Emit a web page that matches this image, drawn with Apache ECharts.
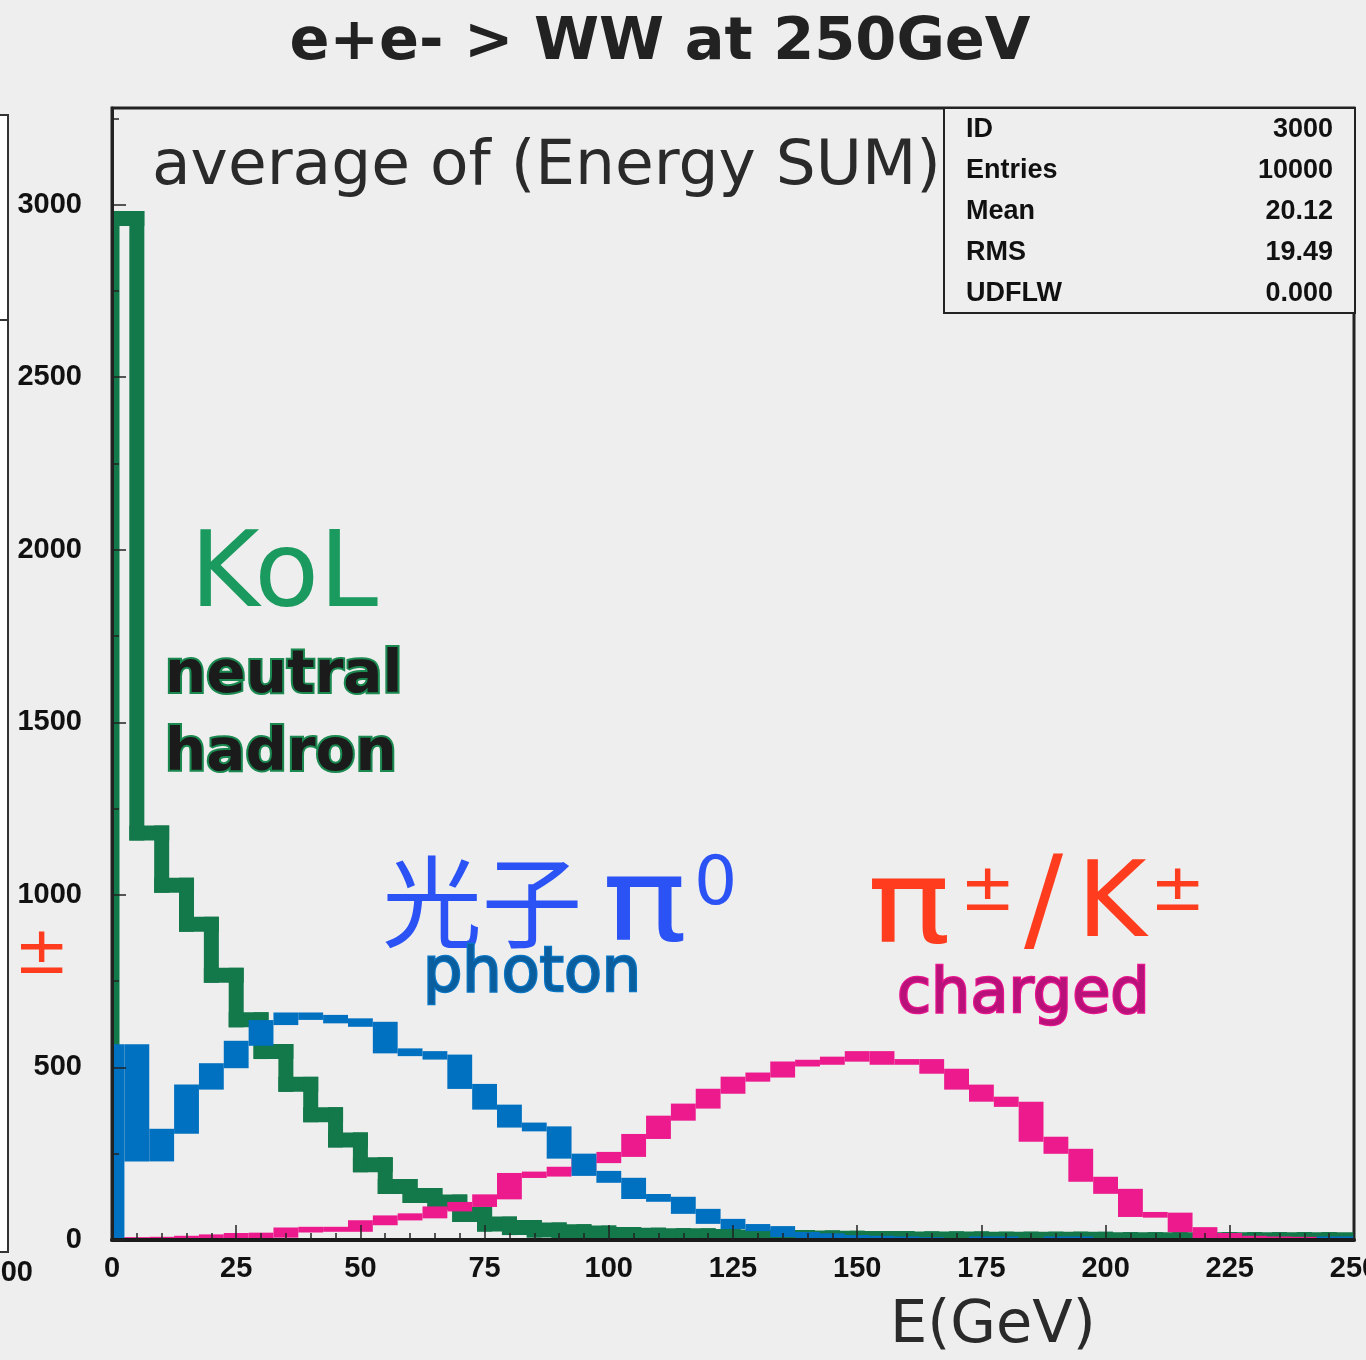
<!DOCTYPE html>
<html>
<head>
<meta charset="utf-8">
<title>e+e- > WW at 250GeV</title>
<script src="https://cdn.jsdelivr.net/npm/echarts@6/dist/echarts.min.js"></script>
<style>
    html, body {
        margin: 0;
        padding: 0;
        background: #eeeeee;
    }

    #chart {
        width: 1366px;
        height: 1360px;
    }
</style>
</head>
<body>
<div id="chart"></div>
<script>
// 5 GeV bins from 0 to 250 GeV (low edge of each bin)
const BIN = 5;
const binLow = [
    0, 5, 10, 15, 20, 25, 30, 35, 40, 45,
    50, 55, 60, 65, 70, 75, 80, 85, 90, 95,
    100, 105, 110, 115, 120, 125, 130, 135, 140, 145,
    150, 155, 160, 165, 170, 175, 180, 185, 190, 195,
    200, 205, 210, 215, 220, 225, 230, 235, 240, 245
];

// KoL / neutral hadron
const neutralHadron = [
    2960, 1179, 1028, 915, 767, 638, 546, 451, 363, 290,
    218, 155, 129, 110, 74, 46, 36, 29, 24, 20,
    16, 14, 12, 12, 10, 9, 8, 7, 6, 5,
    4, 4, 3, 3, 3, 2, 2, 2, 2, 2,
    1, 1, 1, 1, 1, 1, 1, 1, 1, 1
];

// 光子 pi0 / photon
const photon = [
    560, 235, 315, 443, 505, 570, 630, 652, 645, 635,
    625, 548, 540, 530, 445, 385, 333, 322, 243, 193,
    173, 126, 118, 83, 54, 39, 33, 16, 12, 7,
    5, 3, 1, 0, 0, 3, 0, 0, 3, 0,
    0, 0, 0, 0, 0, 0, 0, 0, 0, 3
];

// pi+- / K+- charged
const charged = [
    1, 1, 2, 5, 9, 13, 14, 29, 31, 31,
    50, 64, 70, 90, 103, 125, 187, 191, 205, 230,
    248, 300, 353, 388, 431, 466, 478, 510, 515, 524,
    540, 515, 517, 489, 443, 408, 393, 292, 257, 176,
    141, 74, 72, 30, 13, 5, 3, 2, 1, 1
];

const xTickLabels = [0, 25, 50, 75, 100, 125, 150, 175, 200, 225, 250];
const yTickLabels = [0, 500, 1000, 1500, 2000, 2500, 3000];

const stats = [
    ['ID', '3000'],
    ['Entries', '10000'],
    ['Mean', '20.12'],
    ['RMS', '19.49'],
    ['UDFLW', '0.000']
];

const GREEN = '#13784a';
const BLUE = '#0070c0';
const PINK = '#ec1a8c';
const PAD = 2.5;      // half thickness of the thin horizontal pen
const THICK = 15;     // green pen width

function gridRect(params) {
    return {
        x: params.coordSys.x,
        y: params.coordSys.y,
        width: params.coordSys.width,
        height: params.coordSys.height
    };
}

// green: thick isotropic pen, one item per bin
function thickStepSeries(name, values, color, z) {
    const data = values.map((v, i) => [binLow[i], v, i === 0 ? 0 : values[i - 1]]);
    return {
        name: name,
        type: 'custom',
        z: z,
        data: data,
        encode: { x: 0, y: 1 },
        renderItem: function (params, api) {
            const lo = api.value(0);
            const v = api.value(1);
            const prev = api.value(2);
            const h = THICK / 2;
            const a = api.coord([lo, v]);
            const b = api.coord([lo + BIN, v]);
            const p = api.coord([lo, prev]);
            const clip = gridRect(params);
            const children = [];
            const horiz = echarts.graphic.clipRectByRect({
                x: a[0] - h, y: a[1] - h, width: b[0] - a[0] + 2 * h, height: THICK
            }, clip);
            if (horiz) children.push({ type: 'rect', shape: horiz, style: { fill: color } });
            const top = Math.min(a[1], p[1]) - h;
            const bot = Math.max(a[1], p[1]) + h;
            const vert = echarts.graphic.clipRectByRect({
                x: a[0] - h, y: top, width: THICK, height: bot - top
            }, clip);
            if (vert) children.push({ type: 'rect', shape: vert, style: { fill: color } });
            return { type: 'group', children: children };
        }
    };
}

// blue / pink: wide vertical pen, one block per bin edge spanning the jump
function blockSeries(name, values, color, z) {
    const data = [];
    for (let i = 0; i <= values.length; i++) {
        const prev = i === 0 ? 0 : values[i - 1];
        const next = i === values.length ? 0 : values[i];
        if (prev === 0 && next === 0) continue;
        const edge = i === values.length ? binLow[i - 1] + BIN : binLow[i];
        data.push([edge, Math.min(prev, next), Math.max(prev, next)]);
    }
    return {
        name: name,
        type: 'custom',
        z: z,
        data: data,
        encode: { x: 0, y: [1, 2] },
        renderItem: function (params, api) {
            const e = api.value(0);
            const a = api.coord([e - BIN / 2, api.value(2)]);
            const b = api.coord([e + BIN / 2, api.value(1)]);
            const rect = echarts.graphic.clipRectByRect({
                x: a[0],
                y: a[1] - PAD,
                width: b[0] - a[0],
                height: b[1] - a[1] + 2 * PAD
            }, gridRect(params));
            return rect && { type: 'rect', shape: rect, style: { fill: color } };
        }
    };
}

function txt(text, x, y, font, fill, extra, sx) {
    return {
        type: 'text',
        x: x,
        y: y,
        z: 100,
        scaleX: sx || 1,
        style: Object.assign({
            text: text,
            font: font,
            fill: fill,
            textAlign: 'left',
            textVerticalAlign: 'middle'
        }, extra || {})
    };
}

const graphics = [
    // neighbouring panel, cut off at the left edge
    { type: 'rect', shape: { x: -6, y: 115, width: 14, height: 1137 }, style: { fill: '#ffffff', stroke: '#333', lineWidth: 2 }, z: 1 },
    { type: 'line', shape: { x1: 0, y1: 320, x2: 8, y2: 320 }, style: { stroke: '#333', lineWidth: 2 }, z: 1 },
    txt('±', 14, 956, '66px "DejaVu Sans"', '#ff3c1e'),
    txt('00', 33, 1273, 'bold 29px "Liberation Sans"', '#111', { textAlign: 'right' }),

    // title
    txt('e+e- > WW at 250GeV', 660, 44, 'bold 59px "DejaVu Sans"', '#222', { textAlign: 'center' }),
    txt('average of (Energy SUM)', 152, 168, '63px "DejaVu Sans"', '#2a2a2a'),

    // stats box
    { type: 'rect', shape: { x: 944, y: 108, width: 411, height: 205 }, style: { fill: '#eeeeee', stroke: '#222', lineWidth: 2 }, z: 90 },

    // annotations
    txt('KoL', 190, 578, '106px "DejaVu Sans"', '#1a9a5e'),
    txt('neutral', 165, 677, 'bold 58px "DejaVu Sans"', '#1b1b1b', { stroke: '#1a8a50', lineWidth: 4, strokeFirst: true }),
    txt('hadron', 165, 755, 'bold 58px "DejaVu Sans"', '#1b1b1b', { stroke: '#1a8a50', lineWidth: 4, strokeFirst: true }),
    txt('光子', 382, 902, '100px "Noto Sans CJK JP"', '#2a52f5'),
    txt('π', 602, 910, '116px "DejaVu Sans"', '#2a52f5', null, 1.22),
    txt('0', 694, 886, '68px "DejaVu Sans"', '#2a52f5'),
    txt('photon', 423, 975, '62px "DejaVu Sans"', '#0b5e9e', { stroke: '#0a76c6', lineWidth: 2.5, strokeFirst: true }),
    txt('π', 867, 912, '116px "DejaVu Sans"', '#ff3c1e', null, 1.2),
    txt('±', 960, 893, '66px "DejaVu Sans"', '#ff3c1e'),
    txt('/', 1024, 908, '116px "DejaVu Sans"', '#ff3c1e'),
    txt('K', 1077, 908, '106px "DejaVu Sans"', '#ff3c1e'),
    txt('±', 1150, 893, '66px "DejaVu Sans"', '#ff3c1e'),
    txt('charged', 897, 996, '62px "DejaVu Sans"', '#b8127a', { stroke: '#e8168e', lineWidth: 2.5, strokeFirst: true }),
    txt('E(GeV)', 890, 1327, '59px "DejaVu Sans"', '#2a2a2a')
];

stats.forEach((row, i) => {
    const y = 130 + i * 41;
    graphics.push(txt(row[0], 966, y, 'bold 27px "Liberation Sans"', '#111'));
    graphics.push(txt(row[1], 1333, y, 'bold 27px "Liberation Sans"', '#111', { textAlign: 'right' }));
});

const chart = echarts.init(document.getElementById('chart'));
const option = {
    backgroundColor: '#eeeeee',
    animation: false,
    grid: {
        left: 112,
        top: 108,
        right: 12,
        bottom: 120,
        outerBoundsMode: 'none',
        containLabel: false,
        show: true,
        borderColor: '#222',
        borderWidth: 3,
        backgroundColor: 'transparent'
    },
    xAxis: {
        type: 'value',
        min: 0,
        max: 250,
        interval: 25,
        z: 10,
        axisLine: { show: true, lineStyle: { color: '#1a1a1a', width: 4 } },
        axisTick: { show: true, inside: true, length: 15, lineStyle: { color: '#222', width: 1.5 } },
        minorTick: { show: true, splitNumber: 5, length: 7, lineStyle: { color: '#222', width: 1.5 } },
        splitLine: { show: false },
        axisLabel: {
            color: '#111',
            fontSize: 29,
            fontWeight: 'bold',
            fontFamily: 'Liberation Sans',
            margin: 14,
            hideOverlap: false,
            formatter: v => (xTickLabels.includes(v) ? String(v) : '')
        }
    },
    yAxis: [
        {
            type: 'value',
            min: 0,
            max: 3280,
            interval: 250,
            position: 'left',
            z: 10,
            axisLine: { show: true, lineStyle: { color: '#222', width: 3 } },
            axisTick: { show: true, inside: true, length: 7, lineStyle: { color: '#222', width: 1.5 } },
            axisLabel: { show: false },
            splitLine: { show: false }
        },
        {
            type: 'value',
            min: 0,
            max: 3280,
            interval: 500,
            position: 'left',
            z: 10,
            axisLine: { show: false },
            axisTick: { show: true, inside: true, length: 14, lineStyle: { color: '#222', width: 1.5 } },
            splitLine: { show: false },
            axisLabel: {
                color: '#111',
                fontSize: 29,
                fontWeight: 'bold',
                fontFamily: 'Liberation Sans',
                margin: 30,
                formatter: v => (yTickLabels.includes(v) ? String(v) : '')
            }
        }
    ],
    series: [
        thickStepSeries('neutral hadron', neutralHadron, GREEN, 2),
        blockSeries('charged', charged, PINK, 3),
        blockSeries('photon', photon, BLUE, 4)
    ],
    graphic: graphics
};
chart.setOption(option);
</script>
</body>
</html>
